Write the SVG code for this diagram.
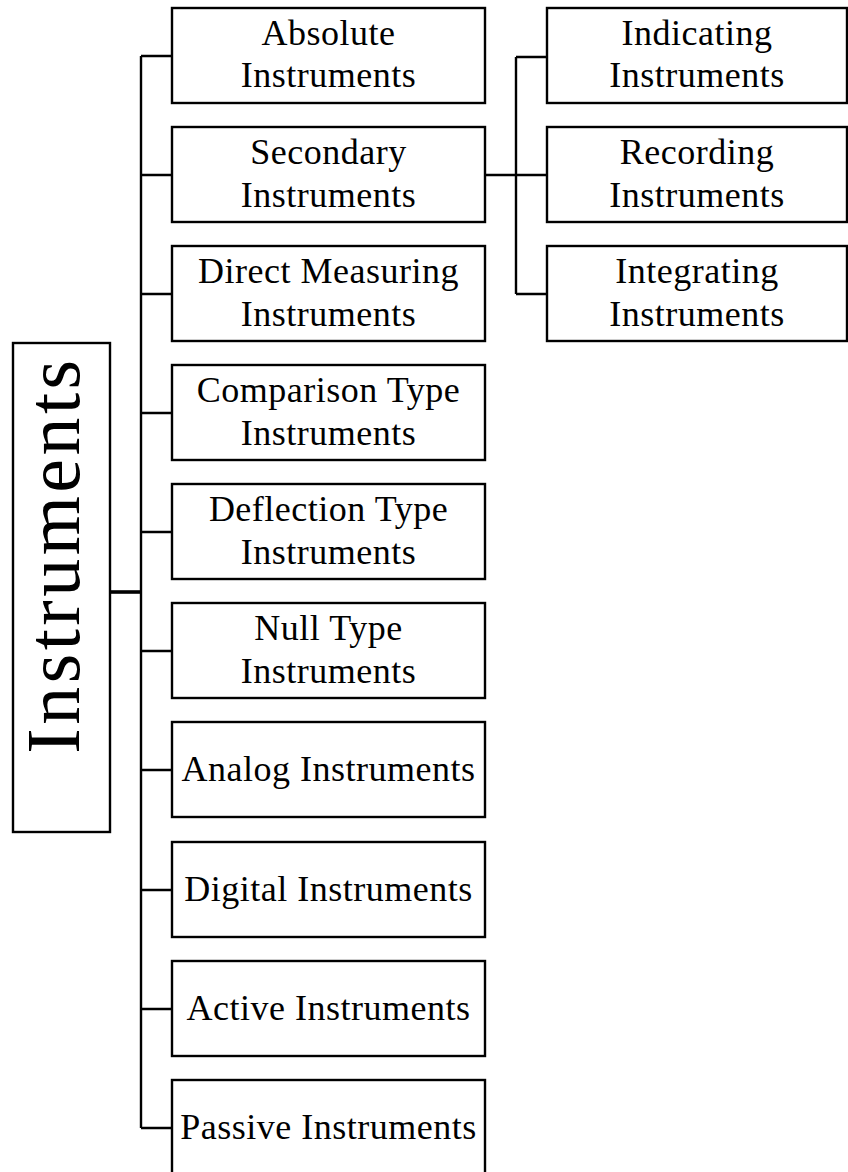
<svg xmlns="http://www.w3.org/2000/svg" width="848" height="1172" viewBox="0 0 848 1172">
<style>
.box{fill:#fff;stroke:#000;stroke-width:2.4}
.t{font-family:"Liberation Serif","Times New Roman",serif;font-size:36px;letter-spacing:0.5px;fill:#000;text-anchor:middle}
.big{font-family:"Liberation Serif","Times New Roman",serif;font-size:76px;letter-spacing:3.5px;fill:#000;text-anchor:middle}
.c{fill:none;stroke:#000;stroke-width:2.4}
</style>
<rect width="848" height="1172" fill="#fff"/>
<g id="connectors">
<path class="c" d="M141,56 V1128 M141,56 H172 M141,175 H172 M141,294 H172 M141,413 H172 M141,532 H172 M141,651 H172 M141,770 H172 M141,890 H172 M141,1009 H172 M141,1128 H172"/>
<path d="M110,592 H141" stroke="#000" stroke-width="3.6" fill="none"/>
<path class="c" d="M485,175 H547 M516,57 V294 M516,57 H547 M516,294 H547"/>
</g>
<g id="root">
<rect class="box" x="13" y="343" width="97" height="489"/>
<text class="big" transform="translate(79,555) rotate(-90)">Instruments</text>
</g>
<g id="absolute">
<rect class="box" x="172" y="8" width="313" height="95"/>
<text class="t" x="328.5" y="45">Absolute</text>
<text class="t" x="328.5" y="87">Instruments</text>
</g>
<g id="secondary">
<rect class="box" x="172" y="127" width="313" height="95"/>
<text class="t" x="328.5" y="164">Secondary</text>
<text class="t" x="328.5" y="207">Instruments</text>
</g>
<g id="direct">
<rect class="box" x="172" y="246" width="313" height="95"/>
<text class="t" x="328.5" y="283">Direct Measuring</text>
<text class="t" x="328.5" y="326">Instruments</text>
</g>
<g id="comparison">
<rect class="box" x="172" y="365" width="313" height="95"/>
<text class="t" x="328.5" y="402">Comparison Type</text>
<text class="t" x="328.5" y="445">Instruments</text>
</g>
<g id="deflection">
<rect class="box" x="172" y="484" width="313" height="95"/>
<text class="t" x="328.5" y="521">Deflection Type</text>
<text class="t" x="328.5" y="564">Instruments</text>
</g>
<g id="null">
<rect class="box" x="172" y="603" width="313" height="95"/>
<text class="t" x="328.5" y="640">Null Type</text>
<text class="t" x="328.5" y="683">Instruments</text>
</g>
<g id="analog">
<rect class="box" x="172" y="722" width="313" height="95"/>
<text class="t" x="328.5" y="781">Analog Instruments</text>
</g>
<g id="digital">
<rect class="box" x="172" y="842" width="313" height="95"/>
<text class="t" x="328.5" y="901">Digital Instruments</text>
</g>
<g id="active">
<rect class="box" x="172" y="961" width="313" height="95"/>
<text class="t" x="328.5" y="1020">Active Instruments</text>
</g>
<g id="passive">
<rect class="box" x="172" y="1080" width="313" height="100"/>
<text class="t" x="328.5" y="1139">Passive Instruments</text>
</g>
<g id="indicating">
<rect class="box" x="547" y="8" width="300" height="95"/>
<text class="t" x="697" y="45">Indicating</text>
<text class="t" x="697" y="87">Instruments</text>
</g>
<g id="recording">
<rect class="box" x="547" y="127" width="300" height="95"/>
<text class="t" x="697" y="164">Recording</text>
<text class="t" x="697" y="207">Instruments</text>
</g>
<g id="integrating">
<rect class="box" x="547" y="246" width="300" height="95"/>
<text class="t" x="697" y="283">Integrating</text>
<text class="t" x="697" y="326">Instruments</text>
</g>
</svg>
